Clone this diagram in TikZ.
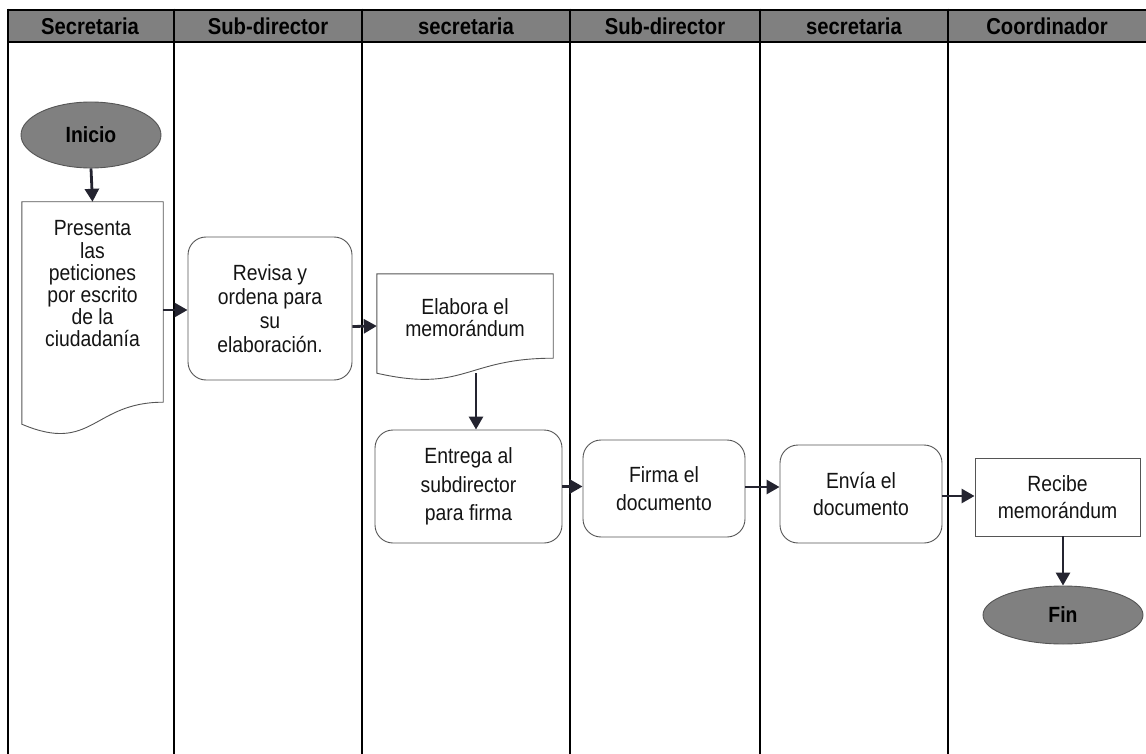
\documentclass[tikz,border=0pt]{standalone}
\usepackage{fontspec}
\setmainfont{Liberation Sans}
\newfontfamily\narrowsans[FakeStretch=0.88]{Liberation Sans}
\usetikzlibrary{arrows.meta,shapes.geometric,calc}
\definecolor{hdrfill}{RGB}{128,128,128}
\definecolor{shapeedge}{RGB}{85,85,85}
\definecolor{flowink}{RGB}{36,36,48}
\newcommand{\bodyfont}[1]{\narrowsans\fontsize{22}{#1}\selectfont}
\begin{document}
\begin{tikzpicture}[x=1pt,y=-1pt,
  laneline/.style={line width=2.6pt, black},
  lanetitle/.style={font=\narrowsans\bfseries\fontsize{23}{24}\selectfont, text=black},
  txt/.style={font=\bodyfont{27.5}, align=center, text=black!92, inner sep=0pt},
  roundbox/.style={txt, draw=shapeedge, line width=0.9pt, rounded corners=18pt},
  plainbox/.style={txt, draw=shapeedge, line width=0.9pt},
  docbox/.style={txt, draw=none},
  docline/.style={draw=shapeedge, line width=0.9pt},
  terminal/.style={ellipse, draw=shapeedge, line width=0.9pt, fill=hdrfill, inner sep=0pt,
    font=\narrowsans\bfseries\fontsize{22}{23}\selectfont, text=black},
  flow/.style={draw=flowink, line width=2.8pt, -{Triangle[length=13pt,width=14pt]}, color=flowink}
]
\useasboundingbox (0,0) rectangle (1146,754);

% header band and swimlanes
\fill[hdrfill] (8,10) rectangle (1146,42);
\draw[laneline] (8,10) -- (1146,10);
\draw[laneline] (8,42) -- (1146,42);
\foreach \x in {8,174,362,570,760,948}
  \draw[laneline] (\x,8.7) -- (\x,754);

\node[lanetitle] (h1) at (90,26.5) {Secretaria};
\node[lanetitle] (h2) at (268,26.5) {Sub-director};
\node[lanetitle] (h3) at (466,26.5) {secretaria};
\node[lanetitle] (h4) at (665,26.5) {Sub-director};
\node[lanetitle] (h5) at (854,26.5) {secretaria};
\node[lanetitle] (h6) at (1047,26.5) {Coordinador};

% process steps
\node[terminal, minimum width=140pt, minimum height=66pt] (inicio) at (91,135) {Inicio};

\node[docbox, minimum width=141pt, minimum height=164pt, font=\bodyfont{22.2}] (pres) at (92.5,284)
  {Presenta\\las\\peticiones\\por escrito\\de la\\ciudadanía};
\draw[docline] (pres.north west) -- (pres.north east) -- ($(pres.south east)+(0,36)$)
  .. controls ($(pres.south)+(0,36)$) and ($(pres.south)+(0,88)$) .. ($(pres.south west)+(0,58)$)
  -- cycle;

\node[roundbox, minimum width=164pt, minimum height=143pt, font=\bodyfont{24}] (revisa) at (270,308.5)
  {Revisa y\\ordena para\\su\\elaboración.};

\node[docbox, minimum width=176pt, minimum height=87pt, font=\bodyfont{21.5}] (elabora) at (465,317.5)
  {Elabora el\\memorándum};
\draw[docline] (elabora.north west) -- (elabora.north east) -- ($(elabora.south east)+(0,-3)$)
  .. controls ($(elabora.south)+(0,-3)$) and ($(elabora.south)+(0,32)$) .. ($(elabora.south west)+(0,12)$)
  -- cycle;

\node[roundbox, minimum width=187pt, minimum height=113pt, font=\bodyfont{28.5}] (entrega) at (468.5,486.5)
  {Entrega al\\subdirector\\para firma};

\node[roundbox, minimum width=162pt, minimum height=97pt] (firma) at (664,488.5)
  {Firma el\\documento};

\node[roundbox, minimum width=162pt, minimum height=98pt] (envia) at (861,494)
  {Envía el\\documento};

\node[plainbox, minimum width=165pt, minimum height=78pt] (recibe) at (1057.5,497)
  {Recibe\\memorándum};

\node[terminal, minimum width=160pt, minimum height=58pt] (fin) at (1063,615) {Fin};

% connector end points that sit off the anchors
\coordinate (c2) at ($(revisa.west)+(0,1.5)$);
\coordinate (c3a) at ($(revisa.east)+(0,18)$);
\coordinate (c3b) at ($(elabora.west)+(0,8.5)$);
\coordinate (c4) at ($(elabora.south)+(11,12)$);
\coordinate (c6) at ($(firma.east)+(0,-1.5)$);
\coordinate (c7) at ($(envia.east)+(0,2)$);

% connectors
\draw[flow] (inicio.south) -- (pres.north);
\draw[flow] (c2 -| pres.east) -- (c2);
\draw[flow] (c3a) -- (c3b);
\draw[flow] (c4) -- (c4 |- entrega.north);
\draw[flow] (entrega.east) -- (entrega.east -| firma.west);
\draw[flow] (c6) -- (c6 -| envia.west);
\draw[flow] (c7) -- (c7 -| recibe.west);
\draw[flow] (fin.north |- recibe.south) -- (fin.north);
\end{tikzpicture}
\end{document}
